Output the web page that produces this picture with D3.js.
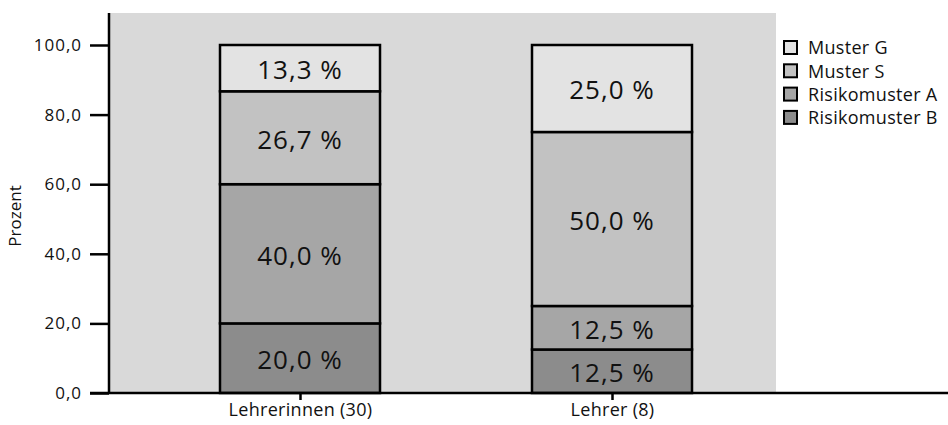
<!DOCTYPE html>
<html>
<head>
<meta charset="utf-8">
<script src="https://cdn.jsdelivr.net/npm/d3@7"></script>
<style>
body{margin:0;background:#fff;}
text{font-family:"Open Sans", sans-serif;fill:#111;}
</style>
</head>
<body>
<div id="chart"></div>
<script>
var categories = ["Lehrerinnen (30)", "Lehrer (8)"]
var series = ["Risikomuster B", "Risikomuster A", "Muster S", "Muster G"]
var values = {
    "Risikomuster B": [20.0, 12.5],
    "Risikomuster A": [40.0, 12.5],
    "Muster S": [26.7, 50.0],
    "Muster G": [13.3, 25.0]
}
var yTicks = [0, 20, 40, 60, 80, 100]
var colors = {"Muster G": "#e3e3e3", "Muster S": "#c2c2c2", "Risikomuster A": "#a6a6a6", "Risikomuster B": "#8c8c8c"}

var width = 948, height = 425
var svg = d3.select("#chart").append("svg").attr("width", width).attr("height", height)

var y = d3.scaleLinear().domain([0, 100]).range([393, 45])
var x = d3.scalePoint().domain(categories).range([300, 612])
var barW = 160

// plot background
svg.append("rect").attr("x", 109).attr("y", 13).attr("width", 776 - 109).attr("height", y(0) - 13).attr("fill", "#d9d9d9")

var rows = categories.map(function(c, i){
    var r = {cat: c}
    series.forEach(function(s){ r[s] = values[s][i] })
    return r
})
var stacked = d3.stack().keys(series)(rows)

stacked.forEach(function(layer){
    var g = svg.append("g")
    g.selectAll("rect").data(layer).enter().append("rect")
        .attr("x", function(d){ return x(d.data.cat) - barW/2 })
        .attr("y", function(d){ return y(d[1]) })
        .attr("width", barW)
        .attr("height", function(d){ return y(d[0]) - y(d[1]) })
        .attr("fill", colors[layer.key])
        .attr("stroke", "#000").attr("stroke-width", 2.5)
    g.selectAll("text").data(layer).enter().append("text")
        .attr("x", function(d){ return x(d.data.cat) })
        .attr("y", function(d){ return (y(d[0]) + y(d[1]))/2 })
        .attr("dy", "0.42em")
        .attr("text-anchor", "middle")
        .style("font-size", "26px").style("letter-spacing", "1px")
        .text(function(d){ return d3.format(".1f")(d[1] - d[0]).replace(".", ",") + " %" })
})

// y axis
var yAxis = svg.append("g").attr("transform", "translate(109,0)")
    .call(d3.axisLeft(y).tickValues(yTicks).tickSize(19).tickPadding(8)
        .tickFormat(function(d){ return d3.format(".1f")(d).replace(".", ",") }))
yAxis.select(".domain").remove()
yAxis.append("line").attr("x1", 0).attr("x2", 0).attr("y1", 13).attr("y2", y(0)).attr("stroke", "#000").attr("stroke-width", 2.5)
yAxis.selectAll(".tick line").attr("stroke-width", 2.5)
yAxis.selectAll("text").style("font-size", "17px").style("letter-spacing", "1px").attr("fill", "#111")

// x axis
var xAxis = svg.append("g").attr("transform", "translate(0," + y(0) + ")")
    .call(d3.axisBottom(x).tickSize(7).tickPadding(3))
xAxis.select(".domain").remove()
xAxis.append("line").attr("x1", 90).attr("x2", width).attr("y1", 0).attr("y2", 0).attr("stroke", "#000").attr("stroke-width", 2.5)
xAxis.selectAll(".tick line").attr("stroke-width", 2.5)
xAxis.selectAll("text").style("font-size", "18px").style("letter-spacing", "0.3px").attr("fill", "#111")

svg.append("text").attr("transform", "translate(21,216) rotate(-90)")
    .attr("text-anchor", "middle").style("font-size", "17px").text("Prozent")

// legend
var legendItems = series.slice().reverse()
var legend = svg.selectAll(".legend").data(legendItems).enter().append("g")
    .attr("transform", function(d, i){ return "translate(784," + (41 + i * 23.3) + ")" })
legend.append("rect").attr("width", 13).attr("height", 13)
    .attr("fill", function(d){ return colors[d] }).attr("stroke", "#000").attr("stroke-width", 2)
legend.append("text").attr("x", 24).attr("y", 7).attr("dy", "0.35em")
    .style("font-size", "18px").style("letter-spacing", "0.3px").text(function(d){ return d })
</script>
</body>
</html>
